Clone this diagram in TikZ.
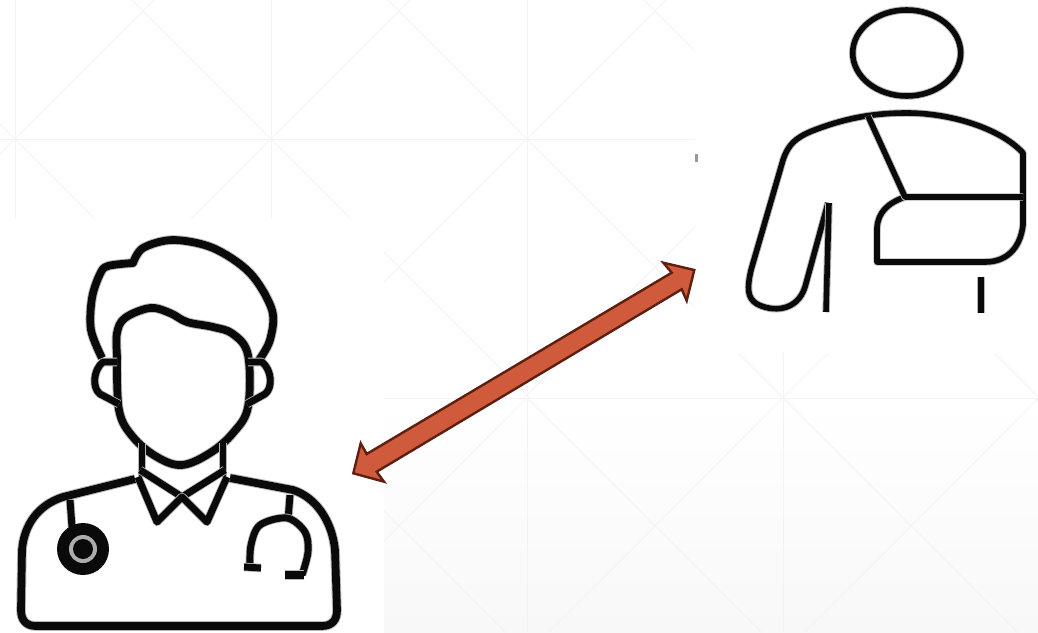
\documentclass[tikz,border=0pt]{standalone}
\usetikzlibrary{shadings}
\definecolor{gridcol}{HTML}{F3F3F3}
\definecolor{panelend}{HTML}{F8F8F8}
\definecolor{arrowfill}{HTML}{D05A3C}
\definecolor{arrowedge}{HTML}{5E1F0F}
\definecolor{inkcol}{HTML}{0A0A0A}
\tikzset{
  gridline/.style={draw=gridcol,line width=0.75pt},
  ink/.style={draw=inkcol,line width=5.8pt,line join=round,preaction={draw=black!28,line width=7.2pt,line join=round}},
  inkmid/.style={draw=inkcol,line width=5.2pt,line join=round,preaction={draw=black!28,line width=6.4pt,line join=round}},
  inkthin/.style={draw=inkcol,line width=4.2pt,line join=round,preaction={draw=black!28,line width=5.6pt,line join=round}},
  curve/.style={smooth,tension=0.55}
}
\begin{document}
\begin{tikzpicture}[x=0.75pt,y=-0.75pt]
\useasboundingbox (0,0) rectangle (1038,632);
\fill[white] (0,0) rectangle (1038,632);
\shade[top color=white,bottom color=panelend] (384,400) rectangle (1038,632);
% faint grid, upper panel
\begin{scope}
\clip (0,0) -- (695,0) -- (695,398) -- (384,398) -- (384,219) -- (0,219) -- cycle;
\foreach \vx in {15,271,527} \draw[gridline] (\vx,0) -- (\vx,400);
\draw[gridline] (0,139) -- (695,139);
\foreach \c in {-636,-380,-124,132,388,644} \draw[gridline] ({\c-10},-10) -- ({\c+650},650);
\foreach \d in {154,410,666,922,1178} \draw[gridline] ({\d+10},-10) -- ({\d-650},650);
\end{scope}
% faint grid, lower panel
\begin{scope}
\clip (384,398) -- (695,398) -- (695,353) -- (1038,353) -- (1038,632) -- (384,632) -- cycle;
\foreach \vx in {527,783} \draw[gridline] (\vx,340) -- (\vx,632);
\draw[gridline] (384,398) -- (1038,398);
\foreach \c in {-127,129,385,641,897} \draw[gridline] ({\c+300},300) -- ({\c+650},650);
\foreach \d in {669,925,1181,1437,1693} \draw[gridline] ({\d-300},300) -- ({\d-650},650);
\end{scope}
% small mark at the edge of the patient picture
\fill[black!40] (695,154) rectangle (698,162);
% double arrow
\filldraw[fill=arrowfill,draw=arrowedge,line width=1.8pt,line join=miter]
  (694.3,270) -- (663.3,262.7) -- (671.7,272.7) -- (366.7,454) -- (360.7,443.3)
  -- (353.3,473.3) -- (384,481.7) -- (376.7,471.7) -- (681.7,289.3) -- (686.7,300.7) -- cycle;
% doctor
\draw[ink] plot[curve] coordinates {(102,358) (91,330) (92,298) (100,274) (108,266) (133,263)}
  -- plot[curve] coordinates {(133,263) (143,248) (173,240) (213,248) (250,273) (272,310) (270,340) (259,360)};
\draw[ink] plot[curve,tension=0.6] coordinates {(117,355) (117,333) (125,318) (150,308) (170,313) (187,322) (213,327) (233,334) (248,355) (248,407) (233,433) (210,453) (182,465) (157,457) (133,437) (119,410) (117,355)};
\draw[inkmid] (117,362) -- (103,362) .. controls (93,370) and (92,388) .. (100,394) -- (119,404);
\draw[inkmid] (248,362) -- (262,362) .. controls (272,370) and (273,388) .. (265,394) -- (247,404);
\draw[inkmid] (142,443) -- (142,477);
\draw[inkmid] (223,443) -- (223,477);
\draw[inkmid] (140,470) -- (182,497) -- (225,470);
\draw[inkmid] (138,477) -- (157,522) -- (182,497) -- (207,522) -- (227,477);
\draw[ink] (135,479) -- (63,497) .. controls (38,505) and (24,525) .. (22,550) -- (21,610)
  .. controls (21,620) and (26,626) .. (36,626) -- (322,626)
  .. controls (332,626) and (337,620) .. (337,610) -- (335,550)
  .. controls (332,520) and (315,497) .. (293,490) -- (230,478);
\draw[inkmid] (70,500) -- (72,527);
\fill[inkcol] (83,549) circle[radius=26];
\fill[black!32] (83,549) circle[radius=14];
\fill[inkcol] (83,549) circle[radius=10];
\draw[inkmid] (290,495) -- (288,520);
\draw[inkmid] plot[curve] coordinates {(250,566) (251,545) (260,525) (287,518) (305,532) (308,552) (302,575)};
\draw[inkmid] (244,567) -- (261,568);
\draw[ink] (285,575) -- (304,575);
% patient
\draw[inkthin] (906.7,53) ellipse[x radius=54,y radius=43];
\draw[inkthin] (828,203) -- (805,287) .. controls (797,312) and (772,312) .. (757,304)
  .. controls (747,298) and (747,288) .. (751,270) -- (783,160)
  .. controls (788,145) and (795,138) .. (812,131) .. controls (850,116) and (880,113) .. (907,113)
  .. controls (950,113) and (1000,128) .. (1023,153) -- (1023,225)
  .. controls (1020,250) and (1005,262) .. (985,262) -- (877,262) -- (877,228)
  .. controls (878,212) and (888,203) .. (905,197);
\draw[inkthin] (868,116) -- (905,197) -- (1023,197);
\draw[inkthin] (829,203) -- (826,312);
\draw[inkthin] (981,277) -- (981,313);
\end{tikzpicture}
\end{document}
